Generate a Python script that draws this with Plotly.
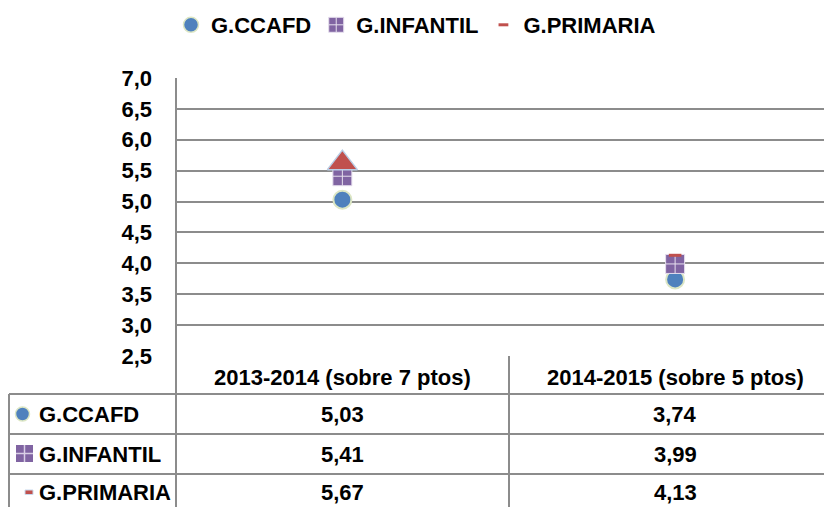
import plotly.graph_objects as go

# ---------------- data ----------------
categories = ["2013-2014 (sobre 7 ptos)", "2014-2015 (sobre 5 ptos)"]
series_names = ["G.CCAFD", "G.INFANTIL", "G.PRIMARIA"]
ccafd = [5.03, 3.74]
infantil = [5.41, 3.99]
primaria = [5.67, 4.13]
y_ticks = [2.5, 3.0, 3.5, 4.0, 4.5, 5.0, 5.5, 6.0, 6.5, 7.0]

# ---------------- style ----------------
W, H = 832, 507
OFF = 8  # page body margin offset
# plot area in page pixels
PL, PR, PT, PB = 176, 840, 78, 356
FONT = "Liberation Sans, Arial, sans-serif"
GRID = "#8c8c8c"
BLUE, PURPLE, RED = "#4F81BD", "#8064A2", "#C0504D"
FS = 22


def px_x(x):
    return (x - PL) / (PR - PL)


def px_y(y):
    return (PB - y) / (PB - PT)


fig = go.Figure()

fig.add_trace(go.Scatter(
    x=categories, y=ccafd, mode="markers", name=series_names[0], showlegend=False,
    marker=dict(symbol="circle", size=18, color=BLUE, opacity=1,
                line=dict(color="#DCE6C4", width=2)),
))
fig.add_trace(go.Scatter(
    x=categories, y=infantil, mode="markers", name=series_names[1], showlegend=False,
    marker=dict(symbol="square-cross", size=19, color=PURPLE, opacity=1,
                line=dict(color="#E6DFEE", width=1)),
))
fig.add_trace(go.Scatter(
    x=categories, y=primaria, mode="markers", name=series_names[2], showlegend=False,
    marker=dict(symbol=["triangle-up", "line-ew"], size=[26, 9], standoff=[3, 0],
                color=RED, opacity=1, line=dict(color=["#B9CDE5", RED], width=[1.5, 3])),
))

# legend-only entries
fig.add_trace(go.Scatter(x=[None], y=[None], mode="markers", name=series_names[0],
                         marker=dict(symbol="circle", size=15, color=BLUE,
                                     line=dict(color="#DCE6C4", width=1.5))))
fig.add_trace(go.Scatter(x=[None], y=[None], mode="markers", name=series_names[1],
                         marker=dict(symbol="square-cross", size=15, color=PURPLE,
                                     line=dict(color="#E6DFEE", width=1))))
fig.add_trace(go.Scatter(x=[None], y=[None], mode="markers", name=series_names[2],
                         marker=dict(symbol="line-ew", size=7, color=RED,
                                     line=dict(color=RED, width=3))))

# ---------------- table lines ----------------
shapes = []


def hline(y, x0, x1):
    shapes.append(dict(type="line", xref="paper", yref="paper", x0=px_x(x0), x1=px_x(x1),
                       y0=px_y(y), y1=px_y(y), line=dict(color=GRID, width=2), layer="below"))


def vline(x, y0, y1):
    shapes.append(dict(type="line", xref="paper", yref="paper", x0=px_x(x), x1=px_x(x),
                       y0=px_y(y0), y1=px_y(y1), line=dict(color=GRID, width=2), layer="below"))


row_lines = [394, 434, 474]
for y in row_lines:
    hline(y, 9, 845)
vline(9, 394, 520)
vline(PL, PT, 520)
vline(509, PB, 520)

# table legend keys
row_centers = [414, 454, 492]
shapes.append(dict(type="circle", xref="paper", yref="paper",
                   x0=px_x(15.5), x1=px_x(29.5), y0=px_y(407), y1=px_y(421),
                   fillcolor=BLUE, line=dict(color="#DCE6C4", width=1.5)))
shapes.append(dict(type="rect", xref="paper", yref="paper",
                   x0=px_x(16), x1=px_x(33), y0=px_y(445), y1=px_y(462),
                   fillcolor=PURPLE, line=dict(color=PURPLE, width=0)))
shapes.append(dict(type="line", xref="paper", yref="paper",
                   x0=px_x(24.5), x1=px_x(24.5), y0=px_y(445), y1=px_y(462),
                   line=dict(color="#D9CFE6", width=1.5)))
shapes.append(dict(type="line", xref="paper", yref="paper",
                   x0=px_x(16), x1=px_x(33), y0=px_y(453.5), y1=px_y(453.5),
                   line=dict(color="#D9CFE6", width=1.5)))
shapes.append(dict(type="rect", xref="paper", yref="paper",
                   x0=px_x(25), x1=px_x(33), y0=px_y(490), y1=px_y(494.5),
                   fillcolor=RED, line=dict(color="#C9D9EC", width=1)))

# ---------------- table text ----------------
annotations = []
tfont = dict(family=FONT, size=FS, color="black", weight="bold")
for cat in categories:
    annotations.append(dict(x=cat, xref="x", y=px_y(377), yref="paper", text=cat,
                            showarrow=False, font=tfont, xanchor="center", yanchor="middle"))
for name, vals, yc in zip(series_names, [ccafd, infantil, primaria], row_centers):
    annotations.append(dict(x=px_x(37), xref="paper", y=px_y(yc), yref="paper",
                            text=name, showarrow=False, font=tfont,
                            xanchor="left", yanchor="middle"))
    for cat, v in zip(categories, vals):
        annotations.append(dict(x=cat, xref="x", y=px_y(yc), yref="paper",
                                text=f"{v:.2f}".replace(".", ","),
                                showarrow=False, font=tfont, xanchor="center", yanchor="middle"))

fig.update_layout(
    width=W, height=H,
    margin=dict(l=PL - OFF, r=W - (PR - OFF), t=PT - OFF, b=H - (PB - OFF), pad=0,
                autoexpand=False),
    paper_bgcolor="white", plot_bgcolor="white",
    separators=",.",
    font=dict(family=FONT, size=FS, color="black"),
    showlegend=True,
    legend=dict(orientation="h", x=px_x(171), xanchor="left", y=px_y(4), yanchor="top",
                font=dict(family=FONT, size=FS, color="black", weight="bold"), itemwidth=30,
                bgcolor="rgba(0,0,0,0)", tracegroupgap=0),
    shapes=shapes,
    annotations=annotations,
    xaxis=dict(type="category", range=[-0.5, 1.4955], showticklabels=False, showgrid=False,
               zeroline=False, showline=False, ticks=""),
    yaxis=dict(range=[2.5, 7.0], tickvals=y_ticks, tickformat=".1f", showgrid=True,
               gridcolor=GRID, gridwidth=2, zeroline=False, showline=False, ticks="",
               ticklabelstandoff=23,
               tickfont=dict(family=FONT, size=FS, color="black", weight="bold")),
)

fig.write_html("out.html")
